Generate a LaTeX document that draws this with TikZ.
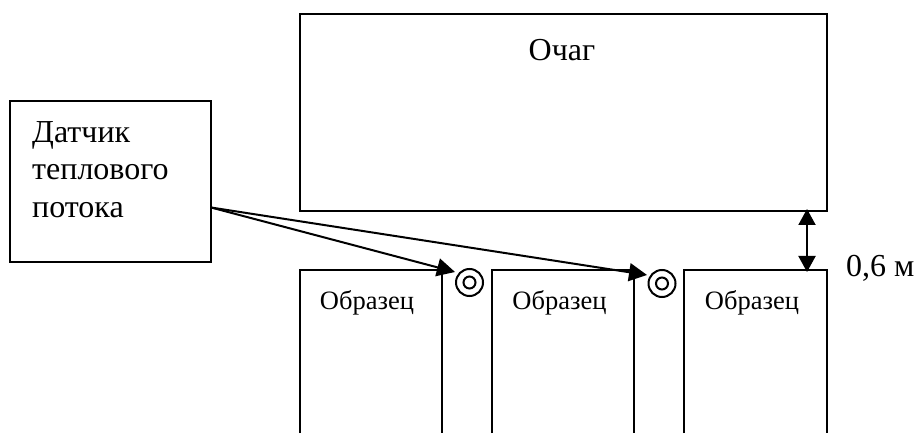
\documentclass[tikz,border=0pt]{standalone}
\usepackage{fontspec}
\setmainfont{Liberation Serif}
\usetikzlibrary{arrows.meta}
\tikzset{
  x=1pt,y=-1pt,
  boxline/.style={draw=black,line width=2pt,inner sep=0pt},
  bigtext/.style={font=\fontsize{32}{37.5}\selectfont,inner sep=0pt},
  smalltext/.style={font=\fontsize{26.5}{30}\selectfont,inner sep=0pt},
  conn/.style={line width=2pt,-{Triangle[length=18pt,width=18pt]}},
  dimconn/.style={line width=2pt,{Triangle[length=16pt,width=17pt]}-{Triangle[length=16pt,width=17pt]}},
  ring/.style={circle,draw=black,line width=2pt,inner sep=0pt},
  openbox/.style={line width=2pt,line cap=butt,line join=miter}
}
\begin{document}
\begin{tikzpicture}
\useasboundingbox (0,0) rectangle (915,435);
\fill[white] (0,0) rectangle (915,435);
% hearth
\node[boxline,minimum width=527pt,minimum height=197pt] (hearth) at (563.5,112.5) {};
\node[bigtext,anchor=base] (hearthlabel) at (562,60.5) {Очаг};
% sensor
\node[boxline,minimum width=201pt,minimum height=161pt] (sensor) at (110.5,181.5) {};
\node[bigtext,anchor=base west] (s1) at (32,142.5) {Датчик};
\node[bigtext,anchor=base west] (s2) at (32,180) {теплового};
\node[bigtext,anchor=base west] (s3) at (32,217.5) {потока};
\coordinate (out) at (211,207.5);
% samples
\coordinate (a1) at (300,433); \coordinate (a2) at (300,270); \coordinate (a3) at (442,270); \coordinate (a4) at (442,433);
\coordinate (b1) at (492,433); \coordinate (b2) at (492,270); \coordinate (b3) at (634,270); \coordinate (b4) at (634,433);
\coordinate (c1) at (684,433); \coordinate (c2) at (684,270); \coordinate (c3) at (827,270); \coordinate (c4) at (827,433);
\draw[openbox] (a1) -- (a2) -- (a3) -- (a4);
\draw[openbox] (b1) -- (b2) -- (b3) -- (b4);
\draw[openbox] (c1) -- (c2) -- (c3) -- (c4);
\node[smalltext,anchor=base] (la) at (367,310) {Образец};
\node[smalltext,anchor=base] (lb) at (559.5,310) {Образец};
\node[smalltext,anchor=base] (lc) at (752,310) {Образец};
% rings
\node[ring,minimum size=27pt] (r1) at (469.5,282.5) {};
\node[ring,minimum size=12pt] (r1i) at (469.5,282.5) {};
\node[ring,minimum size=27pt] (r2) at (662,283.5) {};
\node[ring,minimum size=12pt] (r2i) at (662,283.5) {};
\coordinate (t1) at (455,272);
\coordinate (t2) at (647,275);
\draw[conn] (out) -- (t1);
\draw[conn] (out) -- (t2);
% dimension
\coordinate (d1) at (807,209);
\coordinate (d2) at (807,272);
\draw[dimconn] (d1) -- (d2);
\node[bigtext,anchor=base west] (dim) at (846,277) {0,6 м};
\end{tikzpicture}
\end{document}
